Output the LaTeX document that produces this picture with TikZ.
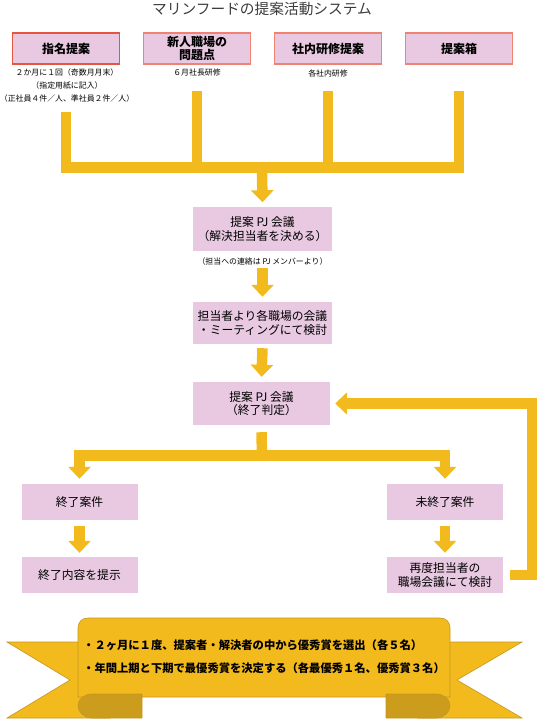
\documentclass[tikz,border=0pt]{standalone}
\usepackage{fontspec}
\setmainfont{Noto Sans CJK JP}
\usetikzlibrary{arrows.meta}
\definecolor{boxpink}{RGB}{232,201,225}
\definecolor{redline}{RGB}{229,86,64}
\definecolor{salmonline}{RGB}{239,130,112}
\definecolor{pipegold}{RGB}{243,186,30}
\definecolor{bandedge}{RGB}{196,150,32}
\definecolor{folddark}{RGB}{204,156,28}
\definecolor{titlegray}{RGB}{60,60,60}
\tikzset{
  topbox/.style={draw=salmonline, fill=boxpink, line width=1.2pt, minimum width=107pt, minimum height=31pt,
    inner sep=0pt, align=center, font=\fontsize{12}{13}\selectfont\bfseries},
  flowbox/.style={fill=boxpink, minimum width=116pt, minimum height=36pt, inner sep=0pt, align=center,
    font=\fontsize{11.8}{13.5}\selectfont},
  pjbox/.style={flowbox, minimum width=139pt, minimum height=43pt},
  note/.style={font=\fontsize{7.9}{13}\selectfont, align=center, inner sep=0pt},
  pipe/.style={draw=pipegold, line width=10.5pt},
  flowarrow/.style={pipe, -{Triangle[width=22pt,length=12pt]}},
  band/.style={fill=pipegold, draw=bandedge, line width=0.6pt},
  fold/.style={fill=folddark, draw=bandedge, line width=0.6pt}
}
\begin{document}
\begin{tikzpicture}[x=1pt, y=-1pt]
\useasboundingbox (0,0) rectangle (539,719);
\node[font=\fontsize{14.7}{16}\selectfont, text=titlegray] (title) at (262,8.5) {マリンフードの提案活動システム};

\node[topbox, draw=redline] (t1) at (66,48.5) {指名提案};
\node[topbox] (t2) at (197,48.5) {新人職場の\\問題点};
\node[topbox] (t3) at (328,48.5) {社内研修提案};
\node[topbox] (t4) at (459,48.5) {提案箱};
\node[note] (n1) at (67,86) {２か月に１回（奇数月月末）\\（指定用紙に記入）\\（正社員４件／人、準社員２件／人）};
\node[note] (n2) at (197,73) {６月社長研修};
\node[note] (n3) at (328,73) {各社内研修};

\coordinate (s1) at (66,112);
\coordinate (s2) at (197,91);
\coordinate (s3) at (328,91);
\coordinate (s4) at (459,91);
\coordinate (bar) at (262,167.5);
\draw[pipe] (s1) |- (bar) -| (s4);
\draw[pipe] (s2) -- (s2 |- bar);
\draw[pipe] (s3) -- (s3 |- bar);

\node[pjbox] (pa) at (262.5,229) {提案 PJ 会議\\（解決担当者を決める）};
\node[note] (nb) at (262.5,261) {（担当への連絡は PJ メンバーより）};
\node[pjbox, minimum height=42pt] (pb) at (262.5,323) {担当者より各職場の会議\\・ミーティングにて検討};
\node[pjbox, minimum width=137pt] (pc) at (261.5,403.5) {提案 PJ 会議\\（終了判定）};
\draw[flowarrow] ([yshift=-4pt]bar) -- ([yshift=5pt]pa.north);
\draw[flowarrow] ([yshift=-17pt]pa.south) -- ([yshift=5pt]pb.north);
\draw[flowarrow] ([yshift=-4pt]pb.south) -- ([yshift=5pt]pc.north);

\node[flowbox] (e1) at (79.5,502) {終了案件};
\node[flowbox] (e2) at (445,502) {未終了案件};
\node[flowbox] (f1) at (79.5,575) {終了内容を提示};
\node[flowbox] (f2) at (445,575) {再度担当者の\\職場会議にて検討};

\coordinate (split) at (262,455.5);
\draw[pipe] ([yshift=-7pt]pc.south) -- (split);
\draw[flowarrow] ([xshift=5pt]split) -| ([yshift=5pt]e1.north);
\draw[flowarrow] ([xshift=-5pt]split) -| ([yshift=5pt]e2.north);
\draw[flowarrow] ([yshift=-6pt]e1.south) -- ([yshift=4pt]f1.north);
\draw[flowarrow] ([yshift=-6pt]e2.south) -- ([yshift=4pt]f2.north);
\coordinate (rt) at (532,575);
\draw[flowarrow] ([xshift=7pt]f2.east) -- (rt) |- ([xshift=5pt]pc.east);

\draw[band] (7,642) -- (110,642) -- (110,718) -- (7,718) -- (70,680) -- cycle;
\draw[band] (522,642) -- (418,642) -- (418,718) -- (522,718) -- (457,680) -- cycle;
\draw[band] (78,697) -- (78,628) .. controls (78,622) and (82,618) .. (88,618) -- (440,618)
  .. controls (446,618) and (450,622) .. (450,628) -- (450,697) -- cycle;
\draw[fold] (142,694) -- (142,718) -- (92,718) .. controls (84,718) and (78,712) .. (78,706)
  .. controls (78,699) and (84,694) .. (92,694) -- cycle;
\draw[fold] (386,694) -- (386,718) -- (436,718) .. controls (444,718) and (450,712) .. (450,706)
  .. controls (450,699) and (444,694) .. (436,694) -- cycle;
\node[anchor=west, align=left, inner sep=0pt, font=\fontsize{11.3}{22.5}\selectfont\bfseries] (award) at (83,656.5)
  {・２ヶ月に１度、提案者・解決者の中から優秀賞を選出（各５名）\\・年間上期と下期で最優秀賞を決定する（各最優秀１名、優秀賞３名）};
\end{tikzpicture}
\end{document}
